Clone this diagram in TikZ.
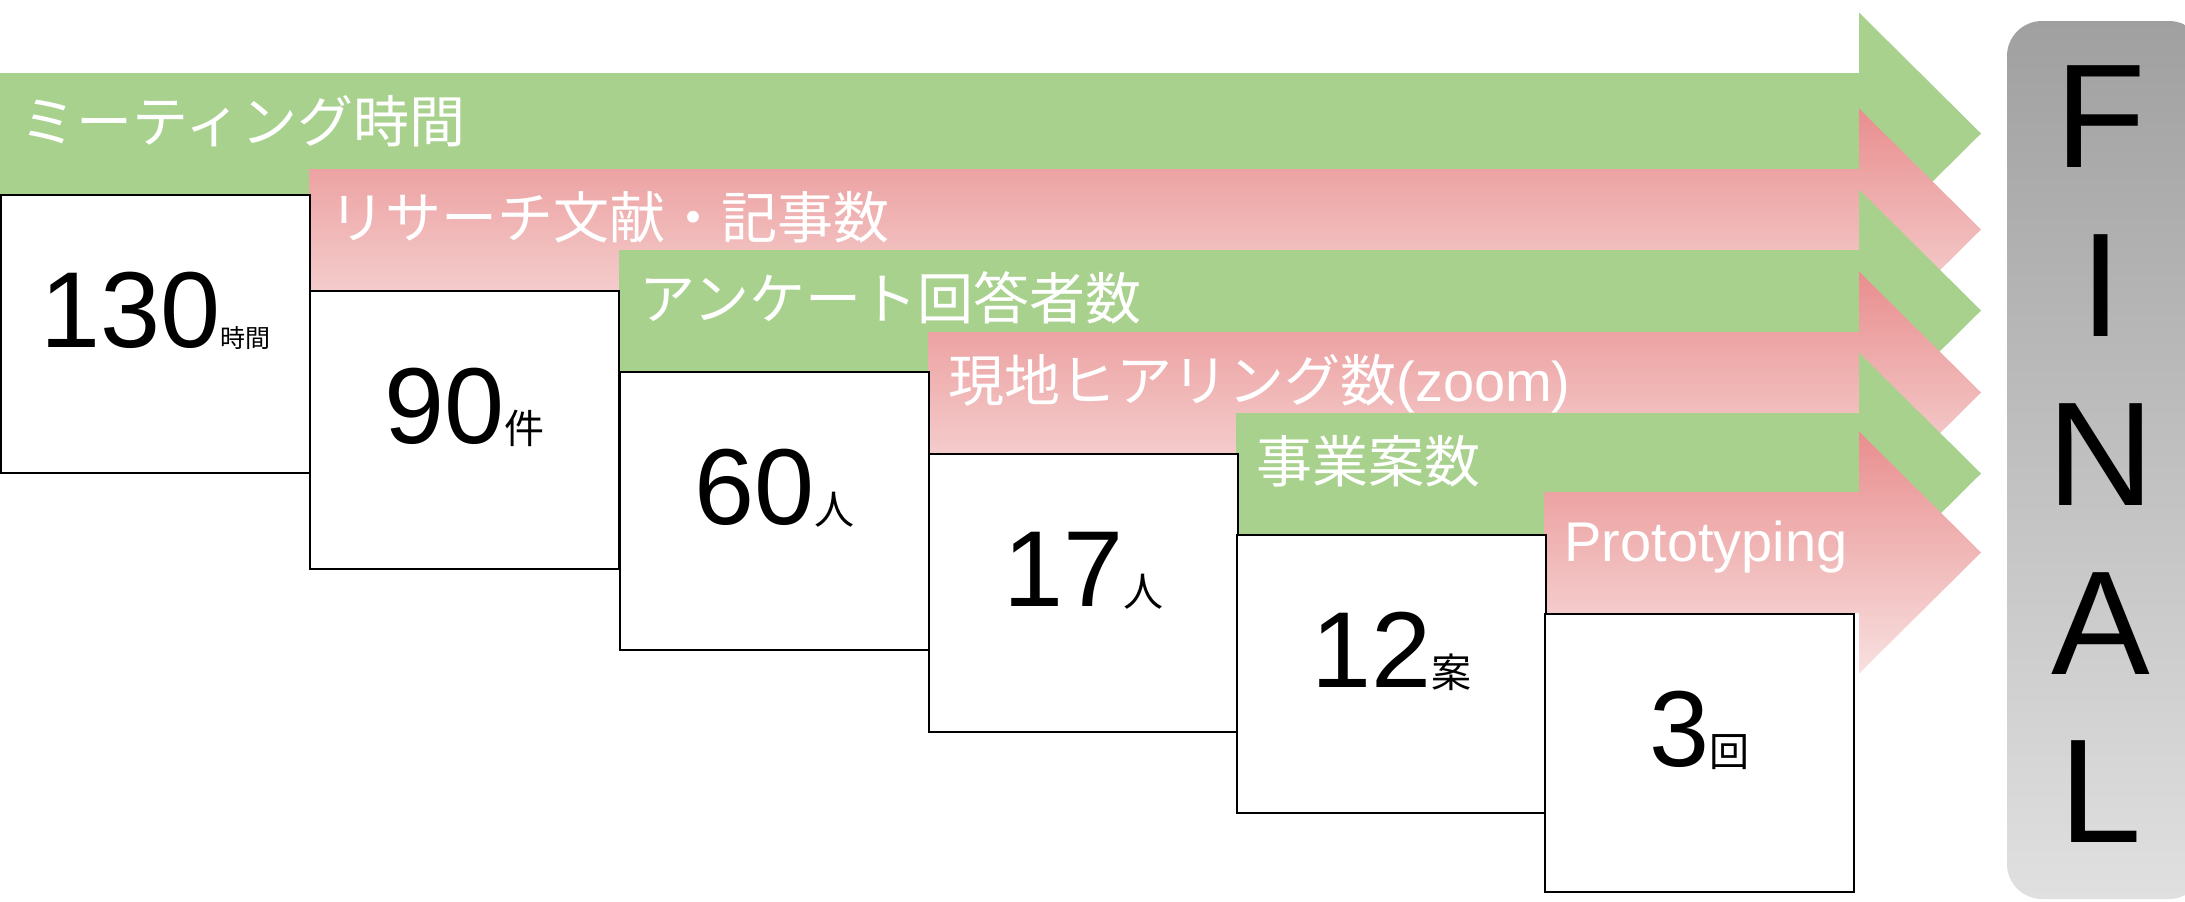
\documentclass[tikz,border=0pt]{standalone}
\usepackage{fontspec}
\setmainfont{Liberation Sans}
\newfontfamily\jp{Noto Sans CJK JP}
\usetikzlibrary{calc}

\definecolor{arrowgreen}{RGB}{169,209,142}
\definecolor{pinktop}{RGB}{233,142,142}
\definecolor{pinkbottom}{RGB}{248,224,224}
\definecolor{finaltop}{RGB}{160,160,160}
\definecolor{finalbottom}{RGB}{224,224,224}

\newcommand{\arrowlabfont}{\fontsize{28}{32}\selectfont}
\newcommand{\numfont}{\fontsize{54}{60}\selectfont}
\newcommand{\unitfont}{\fontsize{20}{24}\selectfont\jp}
\newcommand{\smallunitfont}{\fontsize{12.5}{15}\selectfont\jp}
\newcommand{\finalfont}{\fontsize{74}{80}\selectfont}

\begin{document}
\begin{tikzpicture}[x=0.5pt,y=-0.5pt]
  \tikzstyle{greenarrow}=[fill=arrowgreen]
  \tikzstyle{pinkarrow}=[top color=pinktop,bottom color=pinkbottom]
  \tikzstyle{arrowlabel}=[text=white,anchor=base west,inner sep=0pt,font=\arrowlabfont]
  \tikzstyle{countbox}=[draw=black,line width=0.8pt,fill=white,anchor=north west,
    minimum width=154.5pt,minimum height=139pt,inner sep=0pt]
  \tikzstyle{count}=[anchor=base,inner sep=0pt]
  \tikzstyle{finalletter}=[font=\finalfont,inner sep=0pt]

  \useasboundingbox (0,0) rectangle (2185,901);
  \clip (0,0) rectangle (2185,901);

  % arrows with their labels
  \foreach \i/\L/\T/\sty/\lab in {
      1/0/194/greenarrow/{\jp ミーティング時間},
      2/309/290/pinkarrow/{\jp リサーチ文献・記事数},
      3/619/371/greenarrow/{\jp アンケート回答者数},
      4/928/453/pinkarrow/{{\jp 現地ヒアリング数}(zoom)},
      5/1236/534/greenarrow/{\jp 事業案数},
      6/1544/613/pinkarrow/Prototyping}{
    \path[\sty] (\L,\T-121) -- (1859,\T-121) -- (1859,\T-181.5) -- (1981,\T-60.5)
      -- (1859,\T+60.5) -- (1859,\T) -- (\L,\T) -- cycle;
    \node[arrowlabel] (lab\i) at (\L+20,\T-52) {\lab};
  }

  % count boxes
  \foreach \i/\L/\T/\num/\unit in {
      1/0/194/130/{\smallunitfont 時間},
      2/309/290/90/{\unitfont 件},
      3/619/371/60/{\unitfont 人},
      4/928/453/17/{\unitfont 人},
      5/1236/534/12/{\unitfont 案},
      6/1544/613/3/{\unitfont 回}}{
    \node[countbox] (box\i) at (\L,\T) {};
    \node[count] (num\i) at ($(box\i.north)+(0,153)$) {{\numfont\num}\unit};
  }

  % final column
  \path[top color=finaltop,bottom color=finalbottom,rounded corners=17.5pt]
    (2007,21) rectangle (2204,899);
  \foreach \c [count=\k] in {F,I,N,A,L}
    \node[finalletter] (final\k) at (2101,{117+168.75*(\k-1)}) {\c};
\end{tikzpicture}
\end{document}
